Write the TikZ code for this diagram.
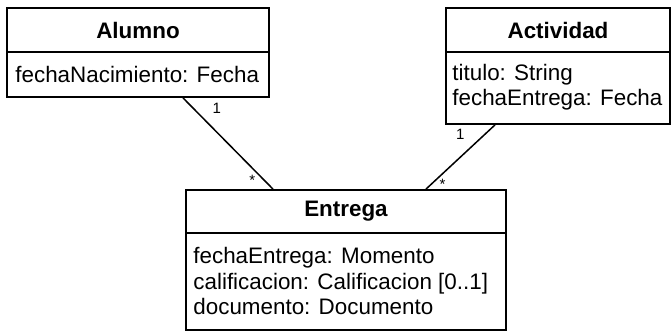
\documentclass[tikz,border=0pt]{standalone}
\usepackage{fontspec}
\setmainfont{Liberation Sans}

\begin{document}
\begin{tikzpicture}[
  x=0.5pt, y=-0.5pt,
  klass/.style={draw, line width=0.9pt, inner sep=0pt},
  divider/.style={line width=0.9pt},
  title/.style={font=\fontsize{11.2}{13}\selectfont\bfseries, inner sep=0pt},
  attrs/.style={font=\fontsize{11.2}{12.6}\selectfont, align=left, anchor=west, inner sep=0pt},
  mult/.style={font=\fontsize{7.5}{8}\selectfont, inner sep=0pt},
  assoc/.style={line width=0.75pt}
]
  \useasboundingbox (0,0) rectangle (671,331);

  % classes
  \node[klass, minimum width=131pt, minimum height=44.5pt] (alumno) at (138,52.5) {};
  \node[title] (alumnoT) at (138,30) {Alumno};
  \draw[divider] (alumno.west |- 0,52) -- (alumno.east |- 0,52);
  \node[attrs] (alumnoA) at (15,74) {fechaNacimiento: Fecha};

  \node[klass, minimum width=112pt, minimum height=58pt] (actividad) at (558,66) {};
  \node[title] (actividadT) at (558,30) {Actividad};
  \draw[divider] (actividad.west |- 0,52) -- (actividad.east |- 0,52);
  \node[attrs] (actividadA) at (452,87) {titulo: String\\fechaEntrega: Fecha};

  \node[klass, minimum width=160pt, minimum height=70pt] (entrega) at (346,260) {};
  \node[title] (entregaT) at (346,211) {Entrega};
  \draw[divider] (entrega.west |- 0,233) -- (entrega.east |- 0,233);
  \node[attrs] (entregaA) at (193,281)
    {fechaEntrega: Momento\\calificacion: Calificacion [0..1]\\documento: Documento};

  % associations
  \draw[assoc] ([xshift=22.5pt]alumno.south) -- ([xshift=-36.5pt]entrega.north)
    node[mult, pos=0.12, right=9pt] {1}
    node[mult, pos=0.9, left=4pt] {*};
  \draw[assoc] ([xshift=-31.5pt]actividad.south) -- ([xshift=40pt]entrega.north)
    node[mult, pos=0.14, left=10pt] {1}
    node[mult, pos=0.93, right=4pt] {*};
\end{tikzpicture}
\end{document}
